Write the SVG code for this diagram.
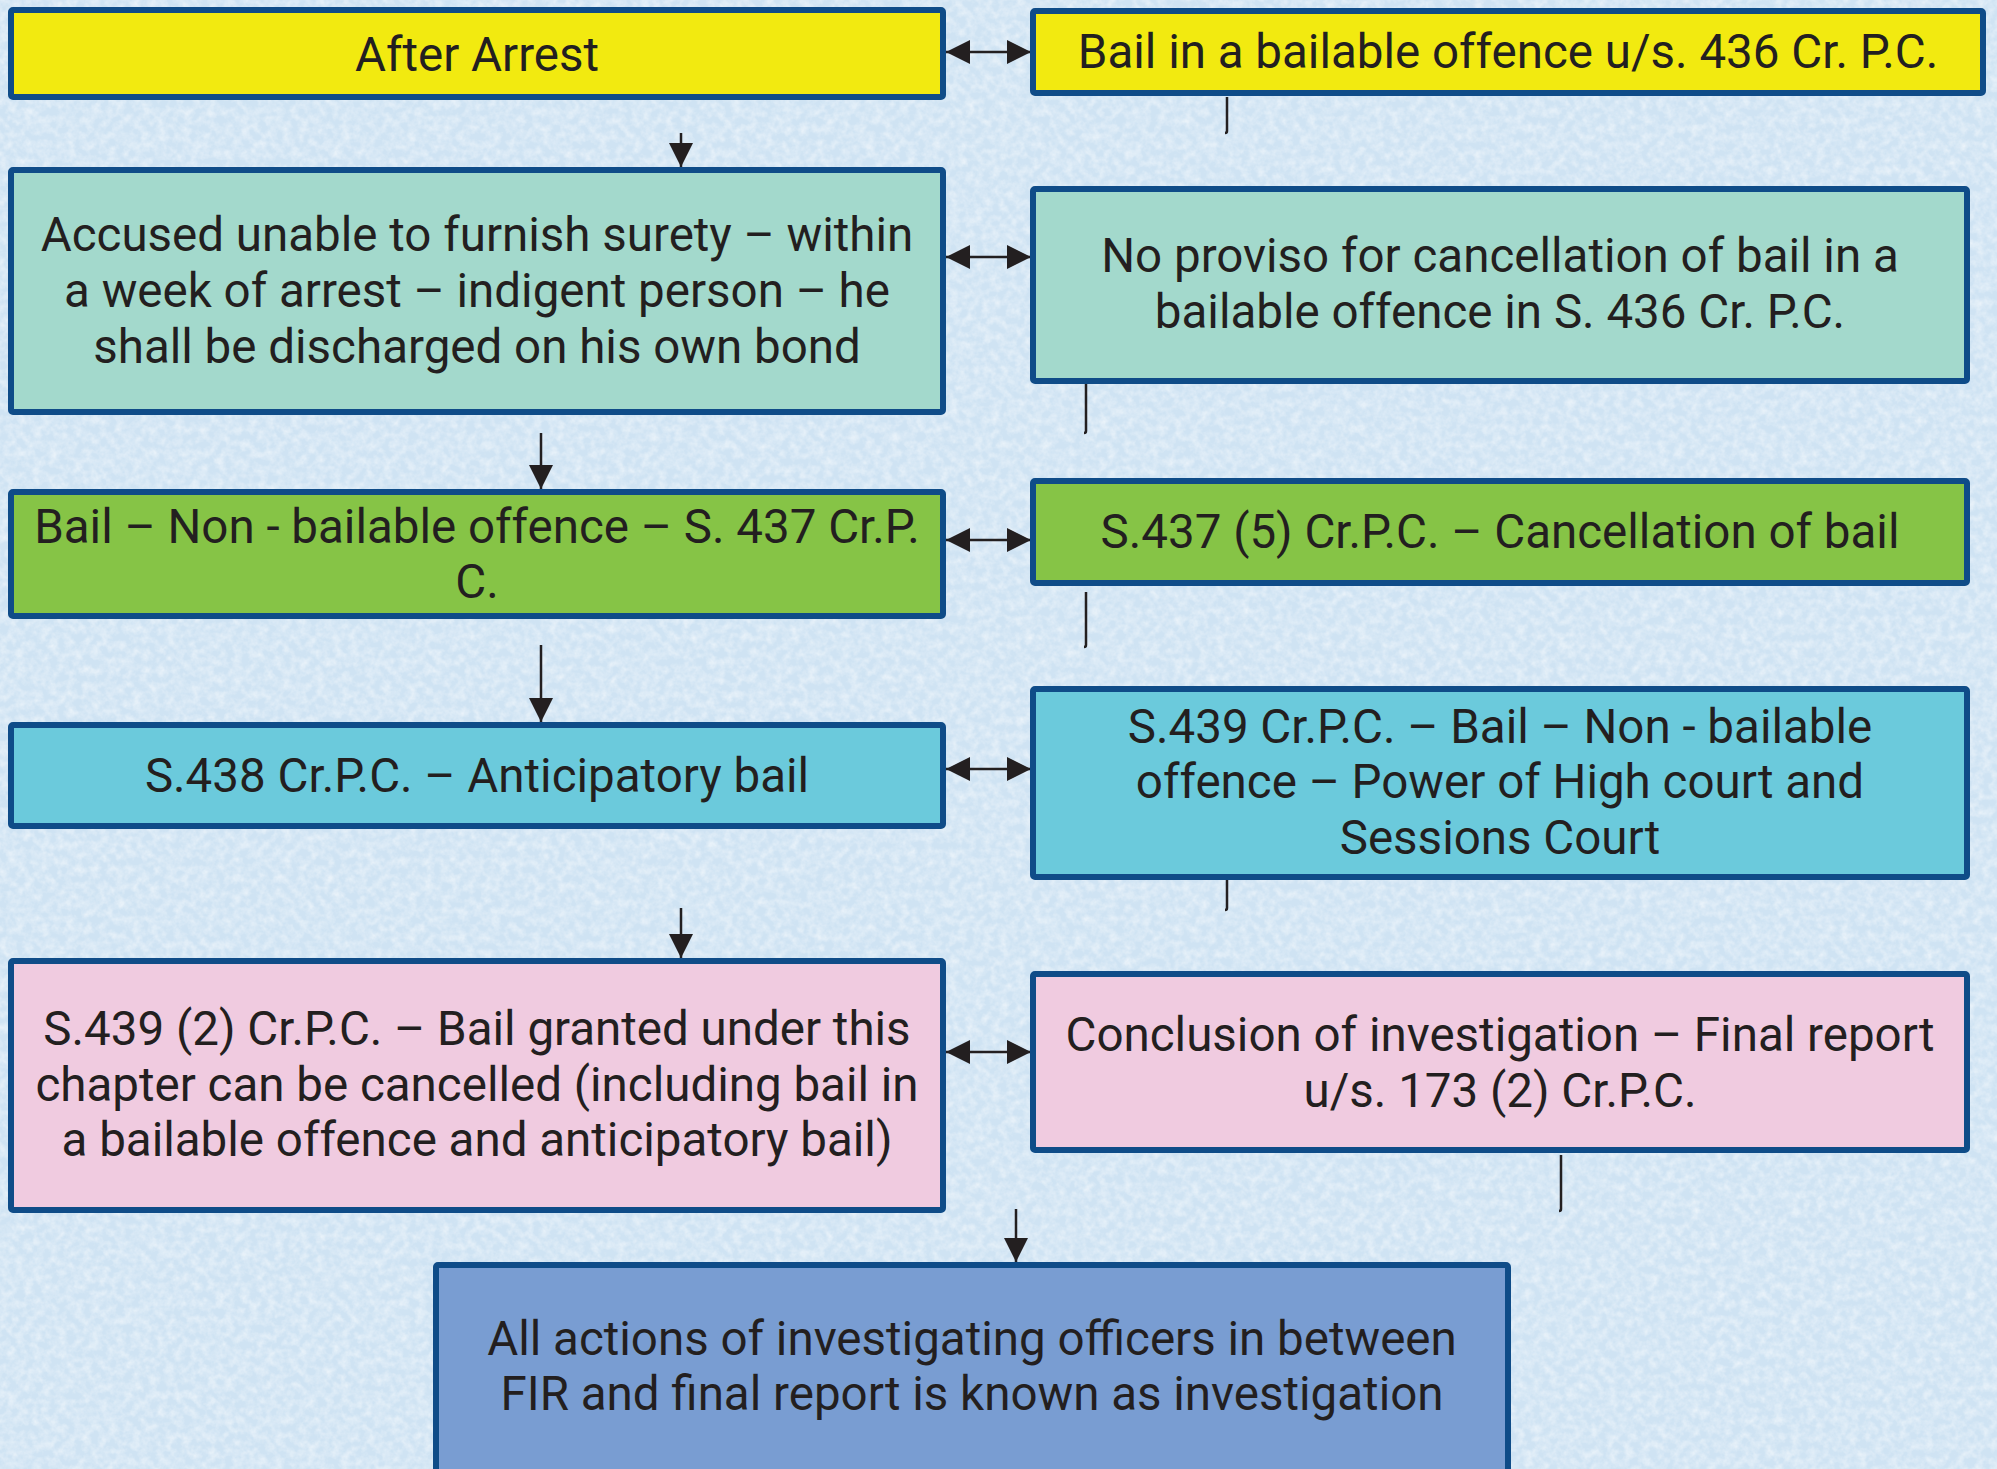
<svg xmlns="http://www.w3.org/2000/svg" width="1997" height="1469" viewBox="0 0 1997 1469">
<style>
.box{stroke:#0f4c88;stroke-width:6}
.yellow{fill:#f2ea10}
.teal{fill:#a3d9cc}
.green{fill:#86c446}
.cyan{fill:#6bcadc}
.pink{fill:#f0cbe0}
.blue{fill:#799dd2}
text{font-family:Roboto,"Liberation Sans",sans-serif;font-size:47.5px;fill:#231f20;text-anchor:middle}
.con{stroke:#231f20;stroke-width:2.5;fill:none}
</style>
<defs>
<filter id="tex" x="0" y="0" width="100%" height="100%">
<feTurbulence type="fractalNoise" baseFrequency="0.12" numOctaves="3" seed="7" result="n"/>
<feColorMatrix in="n" type="matrix" values="0 0 0 0 1  0 0 0 0 1  0 0 0 0 1  1.6 0 0 0 -0.55"/>
</filter>
<marker id="ah" markerUnits="userSpaceOnUse" markerWidth="24" markerHeight="24" refX="24" refY="12" orient="auto-start-reverse" viewBox="0 0 24 24">
<path d="M0,0 L24,12 L0,24 Z" fill="#231f20"/>
</marker>
</defs>
<rect x="0" y="0" width="1997" height="1469" fill="#cfe3f3"/>
<rect x="0" y="0" width="1997" height="1469" filter="url(#tex)" opacity="0.6"/>

<g id="connectors">
<line class="con" x1="681" y1="133" x2="681" y2="167" marker-end="url(#ah)"/>
<line class="con" x1="541" y1="433" x2="541" y2="489" marker-end="url(#ah)"/>
<line class="con" x1="541" y1="645" x2="541" y2="722" marker-end="url(#ah)"/>
<line class="con" x1="681" y1="908" x2="681" y2="958" marker-end="url(#ah)"/>
<line class="con" x1="1016" y1="1209" x2="1016" y2="1262" marker-end="url(#ah)"/>
<line class="con" x1="946" y1="52" x2="1031" y2="52" marker-start="url(#ah)" marker-end="url(#ah)"/>
<line class="con" x1="946" y1="257" x2="1031" y2="257" marker-start="url(#ah)" marker-end="url(#ah)"/>
<line class="con" x1="946" y1="540" x2="1031" y2="540" marker-start="url(#ah)" marker-end="url(#ah)"/>
<line class="con" x1="946" y1="769" x2="1031" y2="769" marker-start="url(#ah)" marker-end="url(#ah)"/>
<line class="con" x1="946" y1="1052" x2="1031" y2="1052" marker-start="url(#ah)" marker-end="url(#ah)"/>
<path class="con" d="M1227,97 V131 q0,2 -2,2"/>
<path class="con" d="M1086,384 V431 q0,2 -2,2"/>
<path class="con" d="M1086,592 V645 q0,2 -2,2"/>
<path class="con" d="M1227,880 V908 q0,2 -2,2"/>
<path class="con" d="M1561,1155 V1209 q0,2 -2,2"/>
</g>

<g id="n1"><rect class="box yellow" x="11" y="10" width="932" height="87" rx="2"/><text x="477" y="71">After Arrest</text></g>
<g id="n2"><rect class="box yellow" x="1033" y="11" width="950" height="82" rx="2"/><text x="1508" y="68">Bail in a bailable offence u/s. 436 Cr. P.C.</text></g>
<g id="n3"><rect class="box teal" x="11" y="170" width="932" height="242" rx="2"/>
<text x="477" y="251">Accused unable to furnish surety – within</text>
<text x="477" y="307">a week of arrest – indigent person – he</text>
<text x="477" y="363">shall be discharged on his own bond</text></g>
<g id="n4"><rect class="box teal" x="1033" y="189" width="934" height="192" rx="2"/>
<text x="1500" y="272">No proviso for cancellation of bail in a</text>
<text x="1500" y="328">bailable offence in S. 436 Cr. P.C.</text></g>
<g id="n5"><rect class="box green" x="11" y="492" width="932" height="124" rx="2"/>
<text x="477" y="543">Bail – Non - bailable offence – S. 437 Cr.P.</text>
<text x="477" y="598">C.</text></g>
<g id="n6"><rect class="box green" x="1033" y="481" width="934" height="102" rx="2"/>
<text x="1500" y="548">S.437 (5) Cr.P.C. – Cancellation of bail</text></g>
<g id="n7"><rect class="box cyan" x="11" y="725" width="932" height="101" rx="2"/>
<text x="477" y="792">S.438 Cr.P.C. – Anticipatory bail</text></g>
<g id="n8"><rect class="box cyan" x="1033" y="689" width="934" height="188" rx="2"/>
<text x="1500" y="743">S.439 Cr.P.C. – Bail – Non - bailable</text>
<text x="1500" y="798">offence – Power of High court and</text>
<text x="1500" y="854">Sessions Court</text></g>
<g id="n9"><rect class="box pink" x="11" y="961" width="932" height="249" rx="2"/>
<text x="477" y="1045">S.439 (2) Cr.P.C. – Bail granted under this</text>
<text x="477" y="1101">chapter can be cancelled (including bail in</text>
<text x="477" y="1156">a bailable offence and anticipatory bail)</text></g>
<g id="n10"><rect class="box pink" x="1033" y="974" width="934" height="176" rx="2"/>
<text x="1500" y="1051">Conclusion of investigation – Final report</text>
<text x="1500" y="1107">u/s. 173 (2) Cr.P.C.</text></g>
<g id="n11"><rect class="box blue" x="436" y="1265" width="1072" height="230" rx="2"/>
<text x="972" y="1355">All actions of investigating officers in between</text>
<text x="972" y="1410">FIR and final report is known as investigation</text></g>
</svg>
